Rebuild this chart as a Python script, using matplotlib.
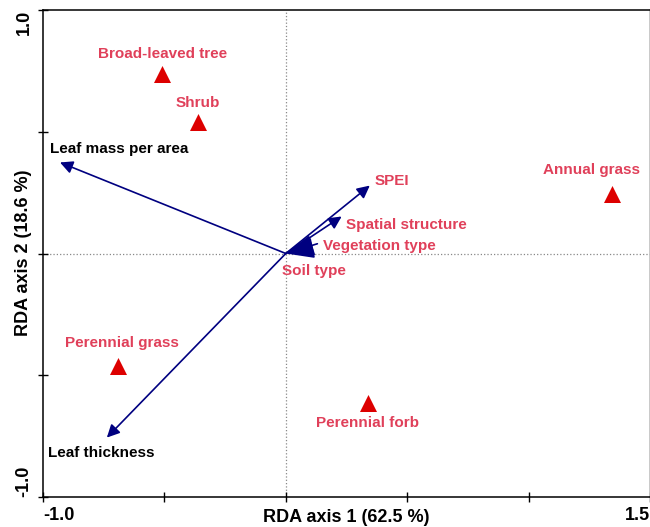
import matplotlib
matplotlib.use("Agg")
import matplotlib.pyplot as plt

plt.rcParams['font.family'] = ['Liberation Sans', 'DejaVu Sans']

# species scores (red triangles) and where their names go
species = ['Broad-leaved tree', 'Shrub', 'Annual grass', 'Perennial grass', 'Perennial forb']
species_x = [-0.51, -0.362, 1.342, -0.691, 0.337]
species_y = [0.739, 0.542, 0.246, -0.464, -0.612]
species_lx = [-0.506, -0.362, 1.259, -0.675, 0.337]
species_ly = [0.821, 0.62, 0.341, -0.366, -0.698]

# explanatory variables (arrows from origin)
traits = ['Leaf mass per area', 'Leaf thickness']
traits_x = [-0.93, -0.737]
traits_y = [0.374, -0.756]
traits_lx = [-0.971, -0.979]
traits_ly = [0.431, -0.821]

envs = ['SPEI', 'Spatial structure', 'Vegetation type', 'Soil type']
envs_x = [0.346, 0.23, 0.13, 0.095]
envs_y = [0.279, 0.152, 0.04, 0.02]
envs_lx = [0.366, 0.247, 0.152, -0.016]
envs_ly = [0.296, 0.115, 0.029, -0.07]

navy = '#000080'
red_txt = '#e0405a'
red_mk = '#dd0000'

fig = plt.figure(figsize=(6.5, 5.27), dpi=100)
ax = fig.add_axes([43 / 650, 1 - 497 / 527, 607 / 650, 487 / 527])
ax.set_xlim(-1.0, 1.5)
ax.set_ylim(-1.0, 1.0)

ax.axhline(0, color='#888888', ls=':', lw=0.9, zorder=0)
ax.axvline(0, color='#888888', ls=':', lw=0.9, zorder=0)


def arrow(x, y, style='-|>', ms=19):
    ax.annotate('', xy=(x, y), xytext=(0, 0),
                arrowprops=dict(arrowstyle=style, color=navy, lw=1.2,
                                mutation_scale=ms, shrinkA=0, shrinkB=0))


for x, y in zip(traits_x + envs_x[:2], traits_y + envs_y[:2]):
    arrow(x, y)
# the two short vectors end up as a solid wedge at the origin
for x, y in zip(envs_x[2:], envs_y[2:]):
    arrow(x, y, style='<|-,head_length=0.8,head_width=0.3', ms=22)

ax.scatter(species_x, species_y, marker='^', s=150, color=red_mk, zorder=3, linewidths=0)

for name, x, y in zip(species, species_lx, species_ly):
    ax.text(x, y, name, color=red_txt, fontsize=11, fontweight='bold',
            ha='center', va='center')

for name, x, y in zip(traits, traits_lx, traits_ly):
    ax.text(x, y, name, fontsize=11, fontweight='bold', ha='left', va='center')

for name, x, y in zip(envs, envs_lx, envs_ly):
    ax.text(x, y, name, color=red_txt, fontsize=11, fontweight='bold',
            ha='left', va='center')

ax.set_xticks([-1.0, -0.5, 0, 0.5, 1.0, 1.5])
ax.set_xticklabels(['-1.0', '', '', '', '', '1.5'], fontsize=13, fontweight='bold')
ax.set_yticks([-1.0, -0.5, 0, 0.5, 1.0])
ax.set_yticklabels(['-1.0', '', '', '', '1.0'], fontsize=13, fontweight='bold', rotation=90)
ax.tick_params(direction='inout', length=7, width=1, pad=4)
lx = ax.get_xticklabels()
lx[0].set_ha('left')
lx[-1].set_ha('right')
ly = ax.get_yticklabels()
ly[0].set_va('bottom')
ly[-1].set_va('top')

for s in ax.spines.values():
    s.set_linewidth(1.1)
ax.spines['right'].set_color('#bbbbbb')

# axis titles sit level with the tick labels
fig.text(346 / 650, 1 - 517 / 527, 'RDA axis 1 (62.5 %)', fontsize=13,
         fontweight='bold', ha='center', va='center')
fig.text(24 / 650, 1 - 253 / 527, 'RDA axis 2 (18.6 %)', fontsize=13,
         fontweight='bold', ha='center', va='center', rotation=90)

fig.savefig('out.png', dpi=100)
